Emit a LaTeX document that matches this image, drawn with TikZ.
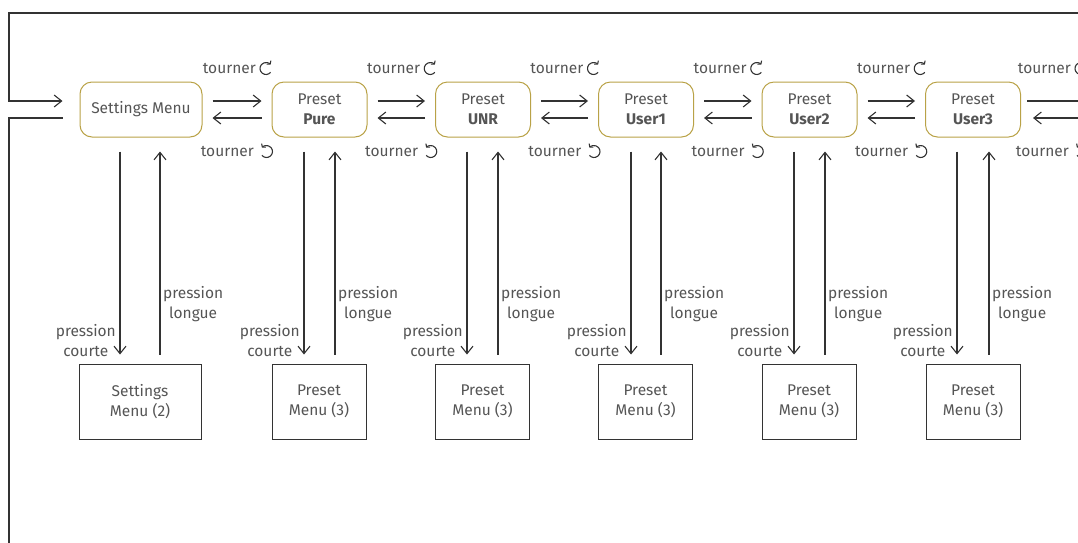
\documentclass[tikz,border=0pt]{standalone}
\usepackage{fontspec}
\setmainfont{Fira Sans}
\usetikzlibrary{arrows.meta,calc}
\definecolor{txt}{HTML}{555555}
\definecolor{ln}{HTML}{333333}
\definecolor{gold}{HTML}{B9A247}
\tikzset{
  cwsym/.pic={\draw[ln, line width=1.1pt, -{Straight Barb[length=2.2pt,width=5.5pt]}] (40:6) arc[start angle=40,end angle=320,radius=6];},
  ccwsym/.pic={\draw[ln, line width=1.1pt, -{Straight Barb[length=2.2pt,width=5.5pt]}] (140:6) arc[start angle=140,end angle=-140,radius=6];}
}
\begin{document}
\begin{tikzpicture}[x=1pt,y=-1pt,
  >={Straight Barb[length=7.5pt,width=12pt]},
  every node/.style={font=\fontsize{15.5}{20}\selectfont, text=txt},
  mainbox/.style={draw=gold, line width=1pt, rounded corners=12pt, minimum height=55pt, minimum width=95pt, inner sep=0pt, align=center},
  subbox/.style={draw=ln, line width=1pt, minimum height=75pt, minimum width=94pt, inner sep=0pt, align=center},
  conn/.style={draw=ln, line width=1.1pt},
  lbl/.style={inner sep=0pt, align=center}]
\useasboundingbox (0,0) rectangle (1078,542);
\clip (0,0) rectangle (1078,542);

% main boxes
\node[mainbox, minimum width=122pt] (sm) at (141,109.5) {Settings Menu};
\node[mainbox] (pure) at (319.5,109.5) {Preset\\\textbf{Pure}};
\node[mainbox] (unr) at (483,109.5) {Preset\\\textbf{UNR}};
\node[mainbox] (u1) at (646,109.5) {Preset\\\textbf{User1}};
\node[mainbox] (u2) at (809.5,109.5) {Preset\\\textbf{User2}};
\node[mainbox] (u3) at (973,109.5) {Preset\\\textbf{User3}};

% sub boxes
\node[subbox, minimum width=122pt] (sm2) at (140,401.5) {Settings\\Menu (2)};
\node[subbox] (p1) at (319,401.5) {Preset\\Menu (3)};
\node[subbox] (p2) at (482.5,401.5) {Preset\\Menu (3)};
\node[subbox] (p3) at (645.5,401.5) {Preset\\Menu (3)};
\node[subbox] (p4) at (809,401.5) {Preset\\Menu (3)};
\node[subbox] (p5) at (973,401.5) {Preset\\Menu (3)};

% horizontal arrows + tourner labels
\foreach \a/\b in {sm/pure, pure/unr, unr/u1, u1/u2, u2/u3}{
  \draw[conn,->,shorten <=10pt, shorten >=10pt] ($(\a.east)+(0,-8.5)$) -- ($(\b.west)+(0,-8.5)$);
  \draw[conn,->,shorten <=10pt, shorten >=10pt] ($(\b.west)+(0,8.5)$) -- ($(\a.east)+(0,8.5)$);
  \coordinate (m) at ($(\a.east)!0.5!(\b.west)$);
  \node[lbl, anchor=east] at ($(m)+(19,-41.5)$) {tourner};
  \pic at ($(m)+(29,-41)$) {cwsym};
  \node[lbl, anchor=east] at ($(m)+(17,41.5)$) {tourner};
  \pic at ($(m)+(29.5,42)$) {ccwsym};
}
% right end (cut off)
\coordinate (r1) at (1100,101);
\coordinate (r2) at (1100,118);
\draw[conn,->,shorten <=6pt] ($(u3.east)+(0,-8.5)$) -- (r1);
\draw[conn,->,shorten >=12pt] (r2) -- ($(u3.east)+(0,8.5)$);
\coordinate (mr) at (1052,109.5);
\node[lbl, anchor=east] at ($(mr)+(19,-41.5)$) {tourner};
\pic at ($(mr)+(29,-41)$) {cwsym};
\node[lbl, anchor=east] at ($(mr)+(17,41.5)$) {tourner};
\pic at ($(mr)+(29.5,42)$) {ccwsym};

% vertical arrows + labels
\foreach \a/\b/\dl/\dr in {sm/sm2/-21/19, pure/p1/-15.5/15.5, unr/p2/-16/15, u1/p3/-15/15, u2/p4/-15.5/15.5, u3/p5/-16/16}{
  \coordinate (d) at ($(\a.south)+(\dl,0)$);
  \coordinate (u) at ($(\a.south)+(\dr,0)$);
  \draw[conn,->,shorten <=14pt, shorten >=9pt] (d) -- (d |- \b.north);
  \draw[conn,->,shorten <=9pt, shorten >=14pt] (u |- \b.north) -- (u);
  \node[lbl, anchor=east] at ($(d)+(-4,203)$) {pression\\courte};
  \node[lbl, anchor=west] at ($(u)+(3,167)$) {pression\\longue};
}

% outer loop
\coordinate (tl) at (9,13);
\coordinate (tr) at (1100,13);
\coordinate (bl) at (9,560);
\draw[conn,->,shorten >=17pt] (tr) -- (tl) |- ($(sm.west)+(0,-8.5)$);
\draw[conn,shorten <=17pt] ($(sm.west)+(0,8.5)$) -| (bl);
\end{tikzpicture}
\end{document}
